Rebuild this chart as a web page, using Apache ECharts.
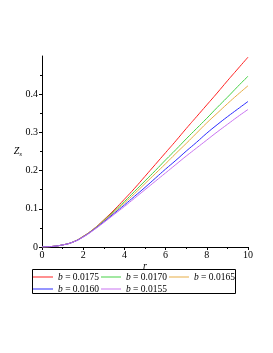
<!DOCTYPE html>
<html><head><meta charset="utf-8">
<script src="https://cdn.jsdelivr.net/npm/echarts@6/dist/echarts.min.js"></script>
<style>html,body{margin:0;padding:0;background:#fff}#c{width:273px;height:353px}</style>
</head><body><div id="c"></div>
<script>
const rValues = [0,0.5,1,1.5,2,2.5,3,3.5,4,4.5,5,5.5,6,6.5,7,7.5,8,8.5,9,9.5,10];
const seriesNames = ['0.0175','0.0170','0.0165','0.0160','0.0155'];
const z0175 = [0,0.0015,0.0055,0.013,0.028,0.047,0.071,0.097,0.125,0.154,0.185,0.216,0.247,0.278,0.310,0.341,0.372,0.403,0.435,0.466,0.497];
const z0170 = [0,0.0015,0.0055,0.013,0.0275,0.0465,0.0695,0.094,0.119,0.146,0.173,0.200,0.228,0.255,0.283,0.310,0.337,0.365,0.392,0.420,0.447];
const z0165 = [0,0.0015,0.0055,0.013,0.027,0.046,0.068,0.091,0.115,0.140,0.166,0.192,0.218,0.245,0.271,0.298,0.325,0.350,0.375,0.399,0.422];
const z0160 = [0,0.0015,0.0054,0.0128,0.0265,0.045,0.066,0.088,0.110,0.133,0.156,0.180,0.204,0.227,0.251,0.274,0.298,0.320,0.341,0.361,0.381];
const z0155 = [0,0.0015,0.0054,0.0127,0.026,0.044,0.064,0.085,0.106,0.128,0.150,0.172,0.194,0.216,0.238,0.259,0.280,0.301,0.321,0.341,0.360];
const seriesValues = [z0175,z0170,z0165,z0160,z0155];
const colors = ['#ff2020','#44d044','#e6ac44','#2a2aff','#c873f0'];
const xTicks = [0,2,4,6,8,10];
const yTicks = [0,0.1,0.2,0.3,0.4];

const font = '"Liberation Serif", "DejaVu Serif", serif';
const legendBase = {icon:'rect',itemWidth:20,itemHeight:1,itemGap:2,padding:0,
  formatter:function(n){return '{i|b} = '+n;},
  textStyle:{fontFamily:font,fontSize:9.5,color:'#000',
    rich:{i:{fontFamily:font,fontSize:9.5,fontStyle:'italic',color:'#000'}}}};
const chart = echarts.init(document.getElementById('c'));
chart.setOption({
  animation:false,
  grid:{left:42,right:25,top:56,bottom:106},
  graphic:[{type:'rect',shape:{x:32.5,y:269.5,width:203,height:24},
    style:{fill:'none',stroke:'#000',lineWidth:1},silent:true}],
  xAxis:{type:'value',min:0,max:10,interval:2,
    axisLine:{lineStyle:{color:'#000',width:1}},
    axisTick:{show:true,length:3,lineStyle:{color:'#000'}},
    minorTick:{show:true,splitNumber:2,length:2,lineStyle:{color:'#000'}},
    splitLine:{show:false},
    axisLabel:{color:'#000',fontFamily:font,fontSize:10,margin:3,customValues:xTicks},
    name:'r',nameLocation:'middle',nameGap:14,nameMoveOverlap:false,
    nameTextStyle:{color:'#000',fontFamily:font,fontSize:10,fontStyle:'italic',lineHeight:10}},
  yAxis:{type:'value',min:0,max:0.5,interval:0.1,
    axisLine:{show:true,lineStyle:{color:'#000',width:1}},
    axisTick:{show:true,length:3,lineStyle:{color:'#000'},customValues:yTicks},
    minorTick:{show:true,splitNumber:2,length:2,lineStyle:{color:'#000'}},
    splitLine:{show:false},
    axisLabel:{color:'#000',fontFamily:font,fontSize:10,margin:4,customValues:yTicks},
    name:'{z|Z}{s|s}',nameLocation:'middle',nameGap:20,nameRotate:0,nameMoveOverlap:false,
    nameTextStyle:{rich:{z:{fontFamily:font,fontSize:10,fontStyle:'italic',color:'#000'},
      s:{fontFamily:font,fontSize:7,fontStyle:'italic',color:'#000',padding:[6,0,0,0]}}}},
  legend:[
    Object.assign({},legendBase,{left:33,top:272,data:seriesNames.slice(0,3)}),
    Object.assign({},legendBase,{left:33,top:284,data:seriesNames.slice(3)})
  ],
  series:seriesNames.map((n,k)=>({
    name:n,type:'line',symbol:'none',smooth:true,
    data:rValues.map((r,i)=>[r,seriesValues[k][i]]),
    lineStyle:{color:colors[k],width:1},itemStyle:{color:colors[k]}
  }))
});
</script></body></html>
